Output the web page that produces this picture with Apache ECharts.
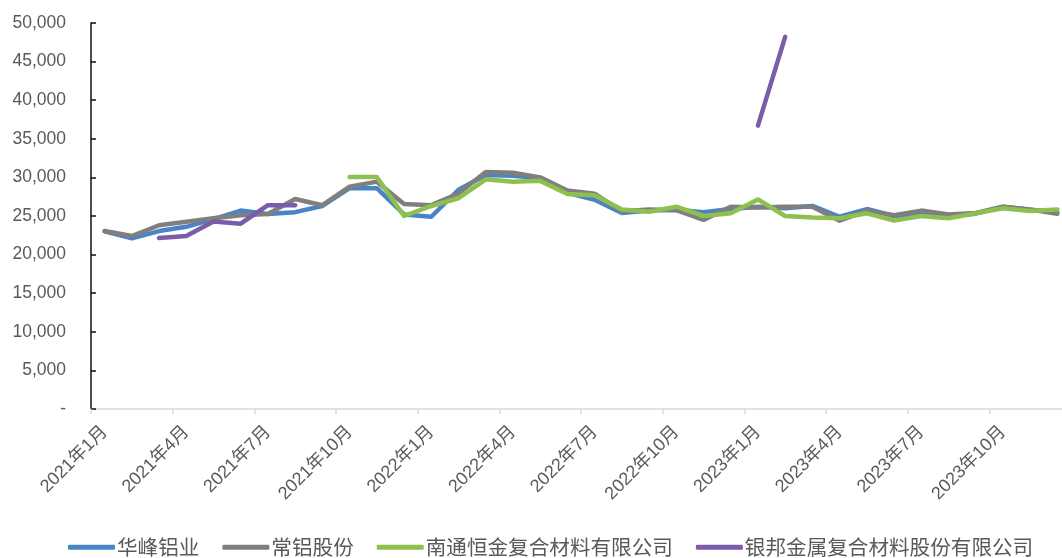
<!DOCTYPE html>
<html>
<head>
<meta charset="utf-8">
<script src="https://cdn.jsdelivr.net/npm/echarts@6/dist/echarts.min.js"></script>
<style>
  html, body { margin: 0; padding: 0; background: #fff; overflow: hidden; }
  /* canvas is a little wider than the window so the plot runs off the right edge */
  #chart { width: 1071px; height: 558px; }
</style>
</head>
<body>
<div id="chart"></div>
<script>
// Monthly categories, Jan 2021 - Dec 2023
const months = [
  '2021年1月','2021年2月','2021年3月','2021年4月','2021年5月','2021年6月',
  '2021年7月','2021年8月','2021年9月','2021年10月','2021年11月','2021年12月',
  '2022年1月','2022年2月','2022年3月','2022年4月','2022年5月','2022年6月',
  '2022年7月','2022年8月','2022年9月','2022年10月','2022年11月','2022年12月',
  '2023年1月','2023年2月','2023年3月','2023年4月','2023年5月','2023年6月',
  '2023年7月','2023年8月','2023年9月','2023年10月','2023年11月','2023年12月'
];

const seriesNames = ['华峰铝业', '常铝股份', '南通恒金复合材料有限公司', '银邦金属复合材料股份有限公司'];

const huafeng = [
  23000, 22100, 23050, 23600, 24600, 25700, 25250, 25500, 26300, 28600, 28600, 25200,
  24900, 28400, 30300, 30200, 29900, 28000, 27100, 25400, 25700, 25800, 25500, 25900,
  26200, 26000, 26300, 24900, 25900, 25000, 25300, 25000, 25300, 26200, 25800, 25500
];

const changlu = [
  23050, 22400, 23800, 24250, 24700, 25100, 25250, 27200, 26400, 28800, 29450, 26550,
  26400, 27900, 30700, 30600, 30000, 28300, 27900, 25600, 25850, 25750, 24500, 26200,
  26100, 26200, 26200, 24400, 25700, 25100, 25700, 25200, 25400, 26200, 25850, 25300
];

const hengjin = [
  null, null, null, null, null, null, null, null, null, 30050, 30050, 25000,
  26300, 27300, 29750, 29450, 29550, 27850, 27700, 25850, 25550, 26200, 25000, 25350,
  27150, 25000, 24800, 24700, 25350, 24400, 25000, 24700, 25350, 26000, 25650, 25850
];

const yinbang = [
  null, null, 22150, 22400, 24300, 24000, 26400, 26400, null, null, null, null,
  null, null, null, null, null, null, null, null, null, null, null, null,
  36700, 48200, null, null, null, null, null, null, null, null, null, null
];

const colors = ['#4a84c4', '#7f7f7f', '#8dc04e', '#7b5ca9'];
const labelGray = '#595959';

const chart = echarts.init(document.getElementById('chart'));

function lineSeries(name, data, color) {
  return {
    name: name,
    type: 'line',
    data: data,
    symbol: 'none',
    connectNulls: false,
    lineStyle: { color: color, width: 4.5, cap: 'round', join: 'round' },
    itemStyle: { color: color },
    emphasis: { disabled: true }
  };
}

chart.setOption({
  animation: false,
  backgroundColor: '#ffffff',
  grid: { left: 91, right: 0, top: 23, bottom: 149, containLabel: false },
  xAxis: {
    type: 'category',
    data: months,
    boundaryGap: true,
    axisLine: { lineStyle: { color: '#d9d9d9', width: 1.5 } },
    axisTick: { show: true, interval: 2, length: 5, lineStyle: { color: '#d9d9d9', width: 1.5 } },
    axisLabel: {
      interval: 2,
      rotate: 45,
      margin: 20,
      color: labelGray,
      fontSize: 18,
      fontFamily: '"Liberation Sans", "Noto Sans CJK SC", sans-serif'
    },
    splitLine: { show: false }
  },
  yAxis: {
    type: 'value',
    min: 0,
    max: 50000,
    interval: 5000,
    axisLine: { show: true, lineStyle: { color: '#111111', width: 1.5 } },
    axisTick: { show: true, inside: true, length: 5, lineStyle: { color: '#111111', width: 1.5 } },
    splitLine: { show: false },
    axisLabel: {
      margin: 25,
      color: labelGray,
      fontSize: 17.5,
      fontFamily: '"Liberation Sans", sans-serif',
      formatter: function (v) {
        return v === 0 ? '-' : v.toLocaleString('en-US');
      }
    }
  },
  legend: {
    data: seriesNames,
    left: 68,
    top: 537,
    padding: 0,
    itemWidth: 47,
    itemHeight: 5,
    itemGap: 23,
    icon: 'roundRect',
    textStyle: {
      color: labelGray,
      fontSize: 20.6,
      padding: [0, 0, 0, -3],
      fontFamily: '"Noto Sans CJK SC", sans-serif'
    }
  },
  series: [
    lineSeries(seriesNames[0], huafeng, colors[0]),
    lineSeries(seriesNames[1], changlu, colors[1]),
    lineSeries(seriesNames[2], hengjin, colors[2]),
    lineSeries(seriesNames[3], yinbang, colors[3])
  ]
});
</script>
</body>
</html>
